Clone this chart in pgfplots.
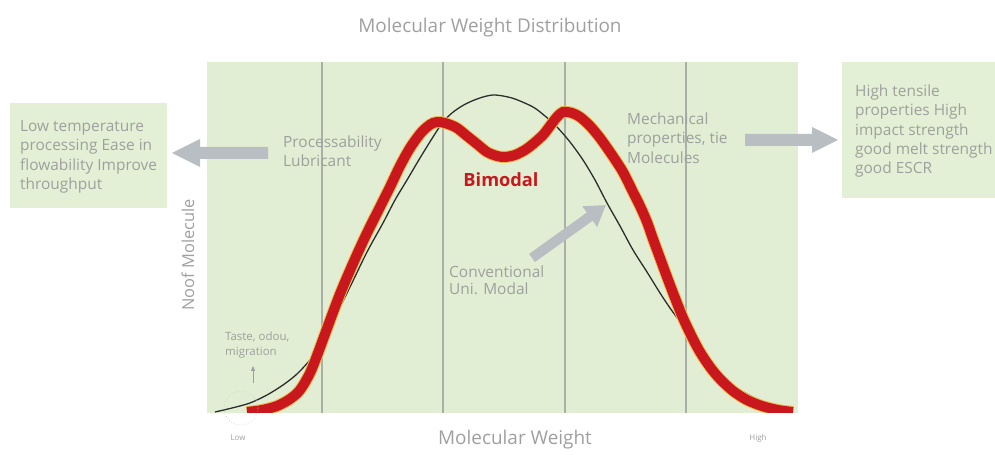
\documentclass[border=0pt]{standalone}
\usepackage{pgfplots}
\pgfplotsset{compat=1.18}
\usepackage{fontspec}
\setmainfont{Open Sans}
\usetikzlibrary{arrows.meta}
\definecolor{bggreen}{RGB}{225,238,211}
\definecolor{boxgreen}{RGB}{228,240,213}
\definecolor{txtgray}{RGB}{158,160,158}
\definecolor{arrgray}{RGB}{185,190,195}
\definecolor{gridgray}{RGB}{168,176,168}
\definecolor{bred}{RGB}{200,24,30}
\definecolor{halo}{RGB}{240,190,80}
\definecolor{uniblack}{RGB}{45,45,45}
\begin{document}
\begin{tikzpicture}
\path[use as bounding box] (0bp,0bp) rectangle (995bp,455bp);
\begin{axis}[at={(207bp,42bp)}, anchor=south west, scale only axis,
  width=591bp, height=351bp, xmin=207, xmax=798, ymin=0, ymax=351,
  axis line style={draw=none}, xtick={322,443,565,686}, xticklabels={,,,,},
  ytick=\empty, major tick length=0pt, xmajorgrids,
  grid style={color=gridgray, line width=1.1bp},
  axis background/.style={fill=bggreen}]
\addplot[uniblack, line width=1.3bp, smooth] coordinates {
(215,1) (232,5) (250,10) (267,18) (283,28) (297,39) (310,53) (320,66)
(335,96) (350,126) (367,161) (383,190) (395,213) (407,233) (420,255)
(433,276) (443,291) (452,300) (462,307) (472,312) (483,316) (493,318)
(503,317) (515,314) (533,306) (545,297) (557,286) (570,271) (583,253)
(595,233) (607,210) (620,187) (633,163) (647,141) (660,120) (670,105)
(680,91) (690,75) (700,61) (712,47) (725,34) (740,23) (755,15) (770,9) (785,5)};
\addplot[halo, line width=12bp, smooth] coordinates {
(247,1) (262,3) (277,7) (290,14) (300,23) (310,40) (318,60) (325,79)
(340,119) (355,154) (367,180) (380,206) (390,226) (400,247) (410,265)
(420,279) (427,286) (433,290) (440,291) (448,289) (457,285) (467,277)
(477,269) (487,261) (497,257) (505,256) (515,258) (525,263) (533,269)
(543,278) (550,287) (557,296) (563,301) (572,300) (580,296) (590,287)
(600,275) (612,258) (623,241) (632,223) (640,207) (647,191) (653,174)
(660,155) (667,136) (675,115) (683,95) (692,76) (700,61) (710,46)
(720,34) (733,22) (747,13) (762,7) (778,3) (793,1)};
\addplot[bred, line width=10bp, smooth] coordinates {
(247,1) (262,3) (277,7) (290,14) (300,23) (310,40) (318,60) (325,79)
(340,119) (355,154) (367,180) (380,206) (390,226) (400,247) (410,265)
(420,279) (427,286) (433,290) (440,291) (448,289) (457,285) (467,277)
(477,269) (487,261) (497,257) (505,256) (515,258) (525,263) (533,269)
(543,278) (550,287) (557,296) (563,301) (572,300) (580,296) (590,287)
(600,275) (612,258) (623,241) (632,223) (640,207) (647,191) (653,174)
(660,155) (667,136) (675,115) (683,95) (692,76) (700,61) (710,46)
(720,34) (733,22) (747,13) (762,7) (778,3) (793,1)};
\end{axis}
\begin{scope}[x=1bp,y=-1bp,yshift=455bp]
% boxes
\fill[boxgreen] (10,103) rectangle (167,208);
\fill[boxgreen] (842,62) rectangle (995,198);
\node[anchor=west, align=left, text=txtgray, inner sep=0pt,
  font=\fontsize{15.5}{19.5}\selectfont] at (20,157)
  {Low temperature\\processing Ease in\\flowability Improve\\throughput};
\node[anchor=west, align=left, text=txtgray, inner sep=0pt,
  font=\fontsize{15.5}{19.5}\selectfont] at (855,131)
  {High tensile\\properties High\\impact strength\\good melt strength\\good ESCR};
% arrows
\fill[arrgray] (268,147)--(200,147)--(200,139)--(172,153)--(200,167)--(200,159)--(268,159)--cycle;
\fill[arrgray] (745,134)--(812,134)--(812,127)--(838,140)--(812,153)--(812,146)--(745,146)--cycle;
\draw[arrgray, line width=10bp, -{Triangle[width=24bp,length=20bp]}] (532,258)--(606,205);
\draw[txtgray, line width=0.8bp, -{Triangle[width=4bp,length=5bp]}] (253,383)--(253,366);
\draw[txtgray!60, dotted, line width=0.6bp] (241,408) circle[radius=17];
% texts
\node[text=txtgray, font=\fontsize{19}{22}\selectfont] at (490,28) {Molecular Weight Distribution};
\node[text=txtgray, font=\fontsize{16.5}{19}\selectfont, rotate=90] at (188,255) {Noof Molecule};
\node[text=txtgray, font=\fontsize{19}{22}\selectfont] at (515,440) {Molecular Weight};
\node[text=txtgray, font=\fontsize{8}{10}\selectfont] at (238,438) {Low};
\node[text=txtgray, font=\fontsize{8}{10}\selectfont] at (758,438) {High};
\node[anchor=west, align=left, text=txtgray, inner sep=0pt,
  font=\fontsize{15.5}{19}\selectfont] at (283,151) {Processability\\Lubricant};
\node[anchor=west, align=left, text=txtgray, inner sep=0pt,
  font=\fontsize{15.5}{19.5}\selectfont] at (627,138) {Mechanical\\properties, tie\\Molecules};
\node[text=bred, font=\fontsize{18.3}{21}\selectfont\bfseries] at (501,180) {Bimodal};
\node[anchor=west, align=left, text=txtgray, inner sep=0pt,
  font=\fontsize{15.5}{17}\selectfont] at (449,280) {Conventional\\Uni. Modal};
\node[anchor=west, align=left, text=txtgray, inner sep=0pt,
  font=\fontsize{11.5}{15}\selectfont] at (225,345) {Taste, odou,\\migration};
\end{scope}
\end{tikzpicture}
\end{document}
